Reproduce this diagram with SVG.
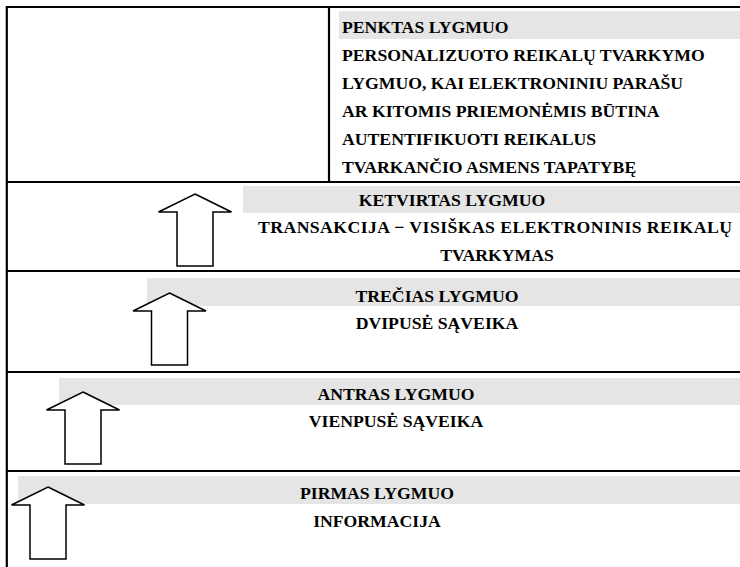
<svg xmlns="http://www.w3.org/2000/svg" width="740" height="567" viewBox="0 0 740 567">
  <style>
    .rule { stroke: #000; stroke-width: 2.2; fill: none; }
    .band { fill: #e5e5e5; }
    .up { fill: #fff; stroke: #000; stroke-width: 1.5; stroke-linejoin: miter; }
  </style>
  <defs>
    <!-- block arrow pointing up; origin at the tip -->
    <path id="uparrow" d="M0,0 L36.5,18 L18,18 L18,72 L-18,72 L-18,18 L-36.5,18 Z"/>
  </defs>
  <rect width="740" height="567" fill="#fff"/>

  <!-- grey title bands -->
  <rect class="band" x="339" y="11" width="401" height="28"/>
  <rect class="band" x="243" y="186" width="497" height="27"/>
  <rect class="band" x="147" y="278" width="593" height="28"/>
  <rect class="band" x="59" y="378" width="681" height="27"/>
  <rect class="band" x="18" y="476" width="722" height="28"/>

  <!-- table rules -->
  <g id="table">
    <path class="rule" d="M6.8,567 V7 H740"/>
    <path class="rule" d="M329,7 V182"/>
    <path class="rule" d="M6.8,182 H740"/>
    <path class="rule" d="M6.8,271 H740"/>
    <path class="rule" d="M6.8,372 H740"/>
    <path class="rule" d="M6.8,471 H740"/>
  </g>

  <g id="connectors">
    <use href="#uparrow" class="up" x="48" y="487"/>
    <use href="#uparrow" class="up" x="83" y="392"/>
    <use href="#uparrow" class="up" x="169.5" y="293"/>
    <use href="#uparrow" class="up" x="195" y="194"/>
  </g>

  <g id="level5">
    <text x="342" y="33" font-family="Liberation Serif" font-weight="bold" font-size="17.7">PENKTAS LYGMUO</text>
    <text x="342" y="61" font-family="Liberation Serif" font-weight="bold" font-size="17.7">PERSONALIZUOTO REIKALŲ TVARKYMO</text>
    <text x="342" y="89" font-family="Liberation Serif" font-weight="bold" font-size="17.7">LYGMUO, KAI ELEKTRONINIU PARAŠU</text>
    <text x="342" y="117" font-family="Liberation Serif" font-weight="bold" font-size="17.7">AR KITOMIS PRIEMONĖMIS BŪTINA</text>
    <text x="342" y="145" font-family="Liberation Serif" font-weight="bold" font-size="17.7">AUTENTIFIKUOTI REIKALUS</text>
    <text x="342" y="173" font-family="Liberation Serif" font-weight="bold" font-size="17.7">TVARKANČIO ASMENS TAPATYBĘ</text>
  </g>

  <g id="level4">
    <text x="452" y="206" text-anchor="middle" font-family="Liberation Serif" font-weight="bold" font-size="17.7">KETVIRTAS LYGMUO</text>
    <text x="258" y="233" textLength="474" lengthAdjust="spacing" font-family="Liberation Serif" font-weight="bold" font-size="17.7">TRANSAKCIJA − VISIŠKAS ELEKTRONINIS REIKALŲ</text>
    <text x="497" y="261" text-anchor="middle" font-family="Liberation Serif" font-weight="bold" font-size="17.7">TVARKYMAS</text>
  </g>

  <g id="level3">
    <text x="437" y="302" text-anchor="middle" font-family="Liberation Serif" font-weight="bold" font-size="17.7">TREČIAS LYGMUO</text>
    <text x="437" y="329" text-anchor="middle" font-family="Liberation Serif" font-weight="bold" font-size="17.7">DVIPUSĖ SĄVEIKA</text>
  </g>

  <g id="level2">
    <text x="396" y="400" text-anchor="middle" font-family="Liberation Serif" font-weight="bold" font-size="17.7">ANTRAS LYGMUO</text>
    <text x="396" y="427" text-anchor="middle" font-family="Liberation Serif" font-weight="bold" font-size="17.7">VIENPUSĖ SĄVEIKA</text>
  </g>

  <g id="level1">
    <text x="377" y="499" text-anchor="middle" font-family="Liberation Serif" font-weight="bold" font-size="17.7">PIRMAS LYGMUO</text>
    <text x="377" y="527" text-anchor="middle" font-family="Liberation Serif" font-weight="bold" font-size="17.7">INFORMACIJA</text>
  </g>
</svg>
